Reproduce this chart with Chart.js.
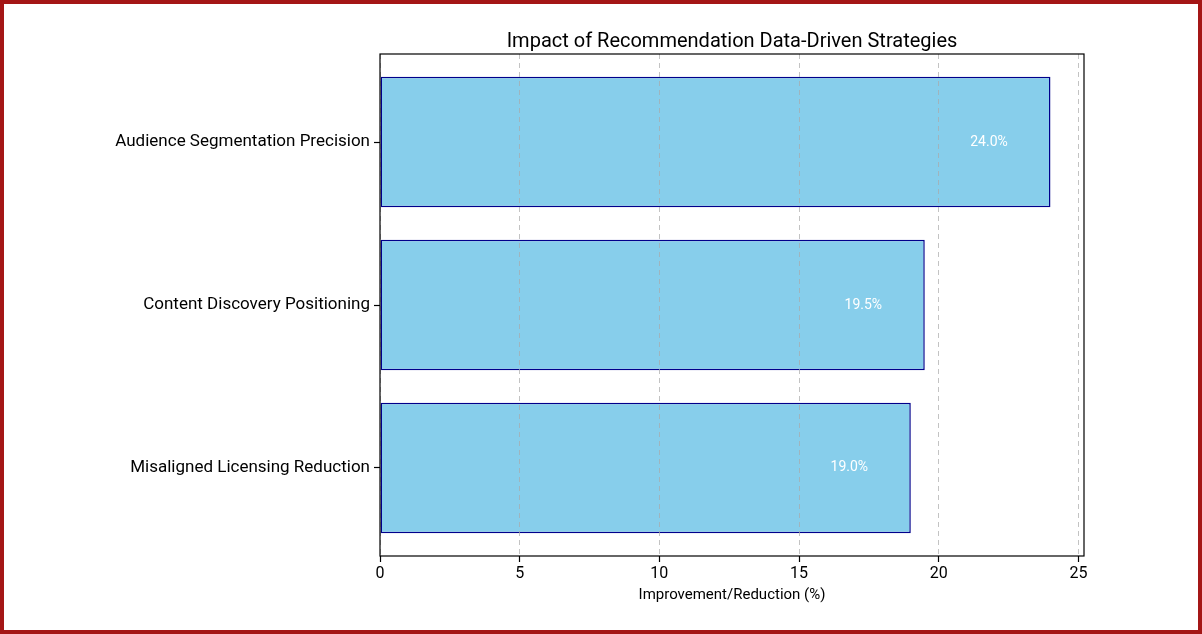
<!DOCTYPE html>
<html>
<head>
<meta charset="utf-8">
<script src="https://cdn.jsdelivr.net/npm/chart.js@4"></script>
<style>
  body { margin: 0; background: #fff; }
  .wrap { position: relative; width: 1202px; height: 634px; }
  .frame { position: absolute; left: 0; top: 0; width: 1202px; height: 634px;
           box-sizing: border-box; border: 4px solid #a41616; pointer-events: none; }
</style>
</head>
<body>
<div class="wrap">
  <canvas id="myChart" width="1202" height="634"></canvas>
  <div class="frame"></div>
</div>
<script>
const strategies = [
  'Audience Segmentation Precision',
  'Content Discovery Positioning',
  'Misaligned Licensing Reduction',
];
const improvements = [24.0, 19.5, 19.0];
const xTicks = [0, 5, 10, 15, 20, 25];

const FONT = 'Roboto, "Noto Sans", sans-serif';

// frame around the plot + title + value labels
const decorations = {
  id: 'decorations',
  afterDatasetsDraw(chart) {
    const { ctx, scales } = chart;
    ctx.save();
    ctx.fillStyle = '#fff';
    ctx.font = '14px ' + FONT;
    ctx.textAlign = 'center';
    ctx.textBaseline = 'middle';
    improvements.forEach((v, i) => {
      ctx.fillText(v.toFixed(1) + '%', scales.x.getPixelForValue(v - 2.2), scales.y.getPixelForValue(i));
    });
    ctx.restore();
  },
  afterDraw(chart) {
    const { ctx, chartArea } = chart;
    ctx.save();
    ctx.strokeStyle = '#000';
    ctx.lineWidth = 1.2;
    ctx.strokeRect(chartArea.left, chartArea.top, chartArea.right - chartArea.left, chartArea.bottom - chartArea.top);
    ctx.fillStyle = '#000';
    ctx.font = '20px ' + FONT;
    ctx.textAlign = 'center';
    ctx.textBaseline = 'alphabetic';
    ctx.fillText('Impact of Recommendation Data-Driven Strategies', (chartArea.left + chartArea.right) / 2, 47);
    ctx.restore();
  }
};

const ctx = document.getElementById('myChart').getContext('2d');
const chart = new Chart(ctx, {
  type: 'bar',
  data: {
    datasets: [{
      data: improvements.map((v, i) => ({ x: v, y: i })),
      backgroundColor: '#87ceeb',
      borderColor: '#00008b',
      borderWidth: 1.5,
      borderSkipped: false,
      barPercentage: 0.8,
      categoryPercentage: 1,
    }]
  },
  options: {
    indexAxis: 'y',
    responsive: false,
    animation: false,
    layout: { padding: { left: 0, right: 118, top: 54, bottom: 30 } },
    plugins: { legend: { display: false }, tooltip: { enabled: false } },
    scales: {
      x: {
        type: 'linear',
        min: 0,
        max: 25.2,
        afterBuildTicks: (scale) => { scale.ticks = xTicks.map(v => ({ value: v })); },
        afterFit: (scale) => { scale.height = 48; },
        ticks: { color: '#000', font: { family: FONT, size: 16 }, padding: 2, maxRotation: 0 },
        grid: { color: 'rgba(170,170,170,0.7)', lineWidth: 1, z: 1, tickColor: '#000', tickLength: 6, tickWidth: 1.2 },
        border: { display: false, dash: [5, 4] },
        title: { display: true, text: 'Improvement/Reduction (%)', color: '#000', font: { family: FONT, size: 15 }, padding: { top: 4, bottom: 0 } },
      },
      y: {
        type: 'linear',
        min: -0.54,
        max: 2.54,
        reverse: true,
        offset: false,
        afterBuildTicks: (scale) => { scale.ticks = strategies.map((s, i) => ({ value: i })); },
        afterFit: (scale) => { scale.width = 380; },
        ticks: { color: '#000', font: { family: FONT, size: 17 }, padding: 4, callback: (v) => strategies[v] },
        grid: { offset: false, drawOnChartArea: false, tickColor: '#000', tickLength: 6, tickWidth: 1.2 },
        border: { display: false },
      }
    }
  },
  plugins: [decorations]
});
</script>
</body>
</html>
